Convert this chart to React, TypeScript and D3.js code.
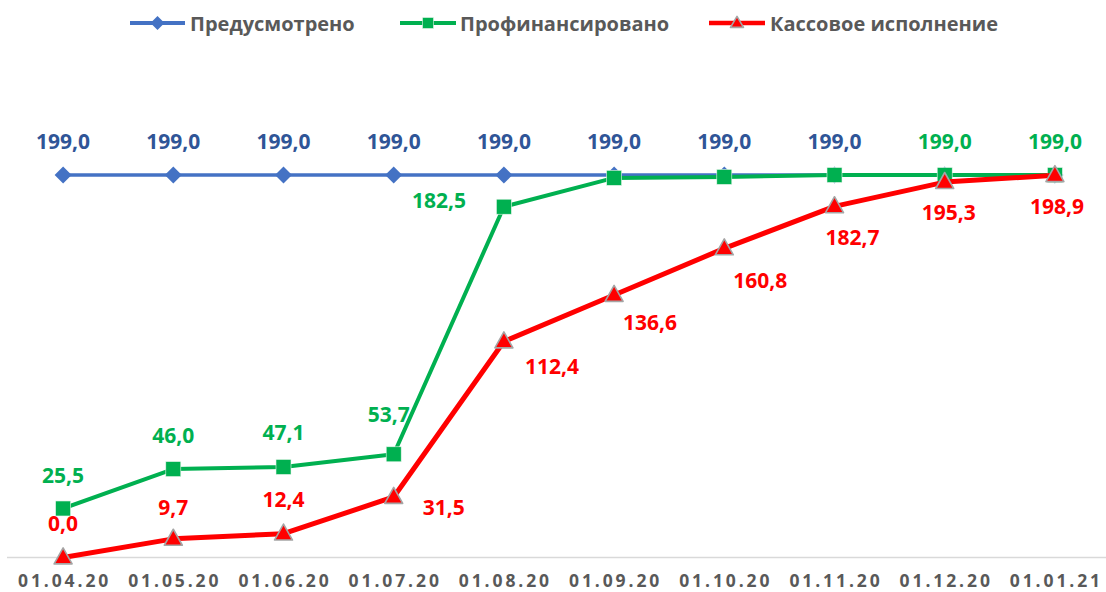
import React from "react";
import * as d3 from "d3";

const categories = ["01.04.20", "01.05.20", "01.06.20", "01.07.20", "01.08.20", "01.09.20", "01.10.20", "01.11.20", "01.12.20", "01.01.21"];
const planned = [199.0, 199.0, 199.0, 199.0, 199.0, 199.0, 199.0, 199.0, 199.0, 199.0];
const financed = [25.5, 46.0, 47.1, 53.7, 182.5, 197.5, 198.0, 199.0, 199.0, 199.0];
const executed = [0.0, 9.7, 12.4, 31.5, 112.4, 136.6, 160.8, 182.7, 195.3, 198.9];

// which points show a label
const plannedShow = [true, true, true, true, true, true, true, true, false, false];
const financedShow = [true, true, true, true, true, false, false, false, true, true];
const executedShow = [true, true, true, true, true, true, true, true, true, true];

// label offsets (label centre relative to point), styling only
const plannedOffsets: [number, number][] = categories.map(() => [0, -34]);
const financedOffsets: [number, number][] = [[0, -33], [0, -34], [0, -34], [-5, -40], [-65, -6], [0, -34], [0, -34], [0, -34], [0, -34], [0, -34]];
const executedOffsets: [number, number][] = [[0, -34], [0, -31], [0, -34], [50, 11], [48, 25], [36, 28], [36, 32], [18, 31], [4, 30], [2, 31]];

const W = 1106;
const H = 592;
const FONT = "'Open Sans', 'Noto Sans', sans-serif";

const fmt = (v: number) => v.toFixed(1).replace(".", ",");

const x = d3.scaleBand<string>().domain(categories).range([8, 1110]).padding(0);
const y = d3.scaleLinear().domain([0, 199]).range([557.5, 175]);
const cx = (c: string) => (x(c) as number) + x.bandwidth() / 2;

const lineGen = d3
  .line<[string, number]>()
  .x((d) => cx(d[0]))
  .y((d) => y(d[1]));

function Diamond({ x: px, y: py, r, fill }: { x: number; y: number; r: number; fill: string }) {
  return <path d={`M${px},${py - r}L${px + r},${py}L${px},${py + r}L${px - r},${py}Z`} fill={fill} />;
}
function Square({ x: px, y: py, s, fill }: { x: number; y: number; s: number; fill: string }) {
  return <rect x={px - s / 2} y={py - s / 2} width={s} height={s} fill={fill} stroke="#e8f5ec" strokeWidth={0.6} />;
}
function Triangle({ x: px, y: py, w, h, fill }: { x: number; y: number; w: number; h: number; fill: string }) {
  return (
    <path
      d={`M${px},${py - h * 0.6}L${px + w / 2},${py + h * 0.4}L${px - w / 2},${py + h * 0.4}Z`}
      fill={fill}
      stroke="#a5a5a5"
      strokeWidth={1.6}
      strokeLinejoin="round"
    />
  );
}

export default function App() {
  const blue = "#4472c4";
  const green = "#00b050";
  const red = "#ff0000";

  const pData = categories.map((c, i) => [c, planned[i]] as [string, number]);
  const fData = categories.map((c, i) => [c, financed[i]] as [string, number]);
  const eData = categories.map((c, i) => [c, executed[i]] as [string, number]);

  const labels = (
    vals: number[],
    show: boolean[],
    offs: [number, number][],
    color: string
  ) =>
    categories.map((c, i) =>
      show[i] ? (
        <text
          key={c}
          x={cx(c) + offs[i][0]}
          y={y(vals[i]) + offs[i][1] + 7.5}
          textAnchor="middle"
          fontFamily={FONT}
          fontWeight={700}
          fontSize={21}
          fill={color}
        >
          {fmt(vals[i])}
        </text>
      ) : null
    );

  return (
    <svg width={W} height={H} style={{ position: "absolute", left: 0, top: 0, background: "#fff" }}>
      {/* Legend */}
      <g fontFamily={FONT} fontWeight={700} fontSize={20} fill="#595959">
        <line x1={130} x2={185} y1={23} y2={23} stroke={blue} strokeWidth={4} />
        <Diamond x={157.5} y={23} r={7} fill={blue} />
        <text x={190} y={31}>Предусмотрено</text>
        <line x1={400} x2={456} y1={23} y2={23} stroke={green} strokeWidth={4} />
        <Square x={428} y={23} s={11} fill={green} />
        <text x={460} y={31}>Профинансировано</text>
        <line x1={709} x2={765} y1={23} y2={23} stroke={red} strokeWidth={4.5} />
        <Triangle x={737} y={23} w={13} h={11} fill={red} />
        <text x={770} y={31}>Кассовое исполнение</text>
      </g>

      {/* Axis line */}
      <line x1={7} x2={1106} y1={557.5} y2={557.5} stroke="#d9d9d9" strokeWidth={1.5} />

      {/* X tick labels */}
      <g fontFamily={FONT} fontWeight={700} fontSize={17.5} fill="#595959">
        {categories.map((c) => (
          <text key={c} x={cx(c) + 1.5} y={587} textAnchor="middle" letterSpacing={2.9}>
            {c}
          </text>
        ))}
      </g>

      {/* Lines */}
      <path d={lineGen(pData) || ""} fill="none" stroke={blue} strokeWidth={3.5} strokeLinejoin="round" />
      {pData.map((d) => (
        <Diamond key={d[0]} x={cx(d[0])} y={y(d[1])} r={8.5} fill={blue} />
      ))}

      <path d={lineGen(fData) || ""} fill="none" stroke={green} strokeWidth={4} strokeLinejoin="round" />
      {fData.map((d) => (
        <Square key={d[0]} x={cx(d[0])} y={y(d[1])} s={15} fill={green} />
      ))}

      <path d={lineGen(eData) || ""} fill="none" stroke={red} strokeWidth={5} strokeLinejoin="round" />
      {eData.map((d) => (
        <Triangle key={d[0]} x={cx(d[0])} y={y(d[1])} w={18} h={16} fill={red} />
      ))}

      {/* Data labels */}
      {labels(planned, plannedShow, plannedOffsets, "#2f5597")}
      {labels(financed, financedShow, financedOffsets, "#00b050")}
      {labels(executed, executedShow, executedOffsets, "#ff0000")}
    </svg>
  );
}
